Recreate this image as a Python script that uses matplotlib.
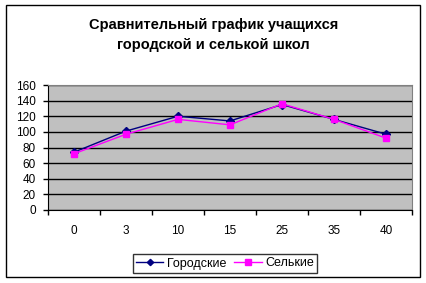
import matplotlib
matplotlib.use("Agg")
import matplotlib.pyplot as plt
from matplotlib.patches import Rectangle

plt.rcParams['font.family'] = ['Liberation Sans', 'DejaVu Sans']

categories = ['0', '3', '10', '15', '25', '35', '40']
gorodskie = [74, 101, 120, 114, 135, 116, 97]
selkie = [72, 97, 116, 109, 136, 116, 92]
y_ticks = [0, 20, 40, 60, 80, 100, 120, 140, 160]

W, H = 427, 283
fig = plt.figure(figsize=(W / 100, H / 100), dpi=100)
fig.patch.set_facecolor('white')

# outer chart border
fig.patches.append(Rectangle((6 / W, 1 - 277 / H), (420 - 6) / W, (277 - 5) / H,
                             transform=fig.transFigure, fill=False,
                             edgecolor='black', linewidth=1))

fig.text(0.5, 1 - 25 / H, 'Сравнительный график учащихся', ha='center', va='center',
         fontsize=10.5, fontweight='bold')
fig.text(0.5, 1 - 45 / H, 'городской и селькой школ', ha='center', va='center',
         fontsize=10.5, fontweight='bold')

ax = fig.add_axes([48 / W, 1 - 210 / H, (412 - 48) / W, (210 - 85) / H])
ax.set_facecolor('#C0C0C0')

x = list(range(len(categories)))
ax.plot(x, gorodskie, color='#000080', marker='D', markersize=4, linewidth=1,
        label='Городские', zorder=3)
ax.plot(x, selkie, color='#FF00FF', marker='s', markersize=5, linewidth=1,
        label='Селькие', zorder=3)

ax.set_ylim(0, 160)
ax.set_xlim(-0.5, len(categories) - 0.5)
ax.set_yticks(y_ticks)
ax.yaxis.grid(True, color='black', linewidth=1)
ax.set_axisbelow(True)

# category boundaries get the tick marks, labels sit in the middle
ax.set_xticks([i - 0.5 for i in range(len(categories) + 1)])
ax.set_xticklabels([])
ax.set_xticks(x, minor=True)
ax.set_xticklabels(categories, minor=True)
ax.tick_params(axis='x', which='major', length=3.6, width=1, color='black')
ax.tick_params(axis='x', which='minor', length=0, pad=11, labelsize=8.5)
ax.tick_params(axis='y', length=3.6, width=1, labelsize=8.5, pad=5)

for side in ['top', 'right']:
    ax.spines[side].set_color('#808080')
for side in ['left', 'bottom']:
    ax.spines[side].set_color('black')

leg = fig.legend(loc='center', bbox_to_anchor=(225 / W, 1 - 263.5 / H), ncol=2,
                 fontsize=9, frameon=True, fancybox=False, edgecolor='black',
                 handlelength=2.2, handletextpad=0.3, columnspacing=0.6,
                 borderpad=0.25, markerscale=0.8)
leg.get_frame().set_linewidth(1)

fig.savefig('out.png', dpi=100)
